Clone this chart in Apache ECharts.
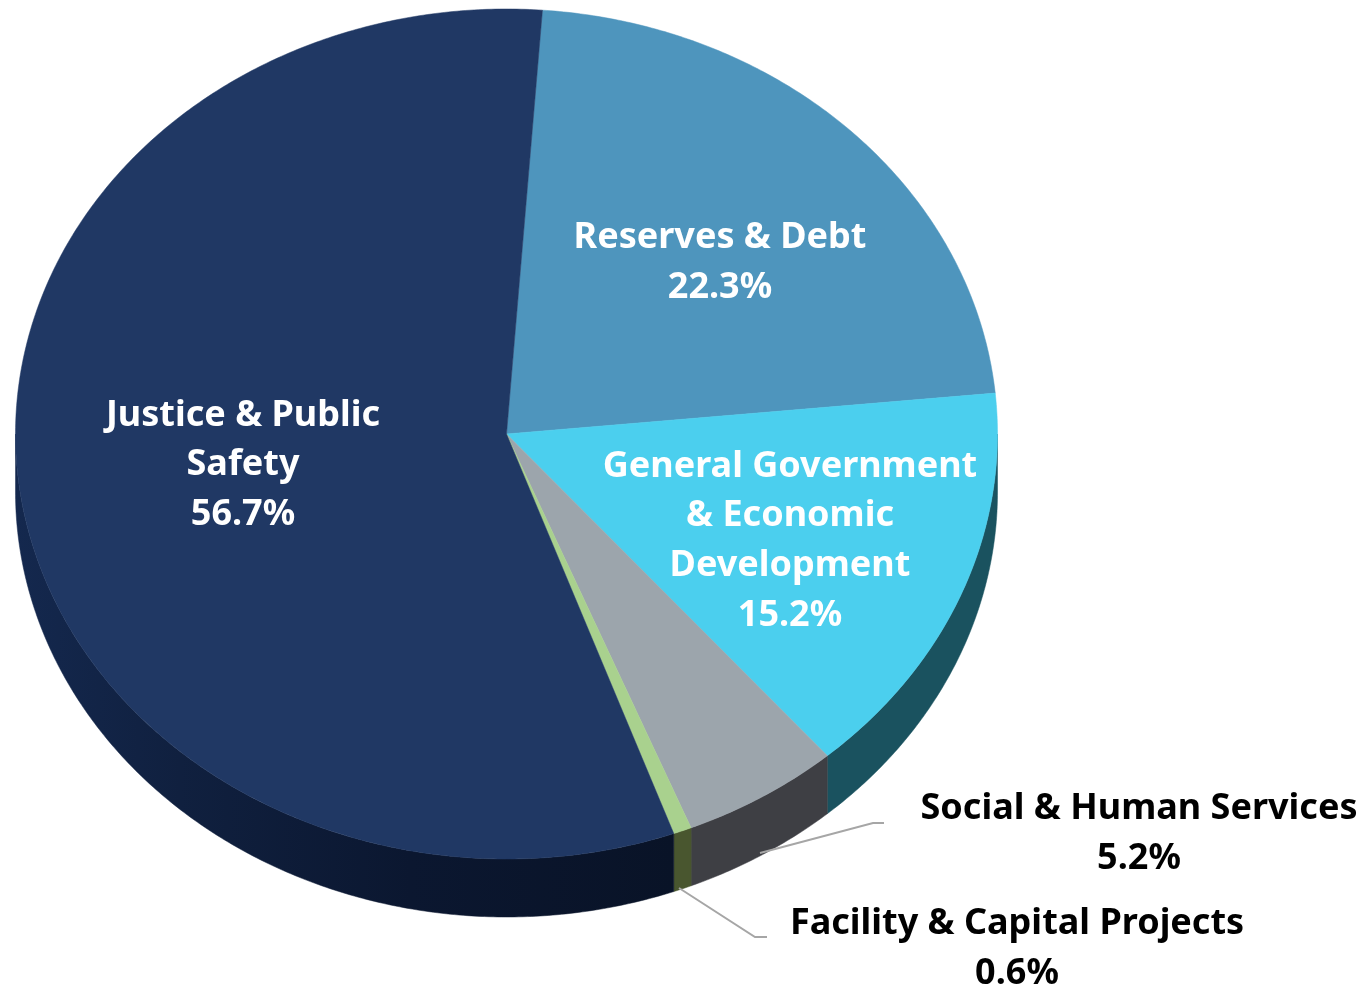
<!DOCTYPE html>
<html><head><meta charset="utf-8">
<style>html,body{margin:0;padding:0;background:#fff}#c{width:1365px;height:988px}</style>
<script src="https://cdn.jsdelivr.net/npm/echarts@6/dist/echarts.min.js"></script>
</head><body><div id="c"></div>
<script>
const categories = ['Reserves & Debt','General Government & Economic Development','Social & Human Services','Facility & Capital Projects','Justice & Public Safety'];
const shares = [22.3,15.2,5.2,0.6,56.7];
const wrappedNames = ['Reserves & Debt','General Government\n& Economic\nDevelopment','Social & Human Services','Facility & Capital Projects','Justice & Public\nSafety'];
const topColors = ['#4E95BD','#4BCFEE','#9CA5AC','#A9D18E','#203864'];
const wallColors = ['#2A5268','#1A525F','#3E3F44','#49562F',null];
const labelColors = ['#fff','#fff','#000','#000','#fff'];
const labelCenters = [[720,263],[790,541],[1139,834],[1017,949],[243,465]];
const leaders = [null,null,[[760,853],[873,823],[884,823]],[[679,888],[755,937],[767,937]],null];
const startDeg = 4.2, CX = 506.5, CY = 434, RX = 491, RY = 425, DEPTH = 58;

const starts = []; let acc = startDeg;
shares.forEach(v => { starts.push(acc); acc += v / 100 * 360; });
const pt = (deg, dy) => { const t = deg * Math.PI / 180; return [CX + RX * Math.sin(t), CY - RY * Math.cos(t) + (dy || 0)]; };
function arc(a, b, dy) { const n = Math.max(2, Math.ceil((b - a) * 2)), out = []; for (let i = 0; i <= n; i++) out.push(pt(a + (b - a) * i / n, dy)); return out; }

const justiceWall = { type:'linear', x:0, y:0, x2:1, y2:0, colorStops:[
  {offset:0,color:'#14284E'},{offset:0.25,color:'#10203F'},{offset:0.6,color:'#0B1730'},{offset:1,color:'#091327'}]};

function renderWall(params, api) {
  const i = api.value(0), a = Math.max(starts[i], 90), b = Math.min(starts[i] + api.value(1) / 100 * 360, 270);
  if (b <= a) return { type:'group', children:[] };
  const pts = arc(a, b, 0).concat(arc(a, b, DEPTH).reverse());
  const fill = wallColors[i] || justiceWall;
  return { type:'polygon', shape:{ points:pts }, style:{ fill, stroke:fill, lineWidth:0.5 } };
}
function renderTop(params, api) {
  const i = api.value(0), a = starts[i], b = a + api.value(1) / 100 * 360;
  const pts = [[CX, CY]].concat(arc(a, b, 0));
  return { type:'polygon', shape:{ points:pts }, style:{ fill:topColors[i], stroke:topColors[i], lineWidth:0.5 } };
}
function renderLabel(params, api) {
  const i = api.value(0), kids = [];
  if (leaders[i]) kids.push({ type:'polyline', shape:{ points:leaders[i] }, style:{ fill:null, stroke:'#A6A6A6', lineWidth:2 } });
  kids.push({ type:'text', x:labelCenters[i][0], y:labelCenters[i][1], style:{
    text: wrappedNames[i] + '\n' + api.value(1).toFixed(1) + '%',
    fill: labelColors[i], font:'bold 36px "Noto Sans"', lineHeight:49.7, align:'center', verticalAlign:'middle' } });
  return { type:'group', children:kids };
}
const data = shares.map((v, i) => ({ name:categories[i], value:[i, v] }));
const chart = echarts.init(document.getElementById('c'), null, { renderer:'canvas' });
chart.setOption({
  animation:false, backgroundColor:'#fff',
  series:[
    { type:'custom', coordinateSystem:'none', renderItem:renderWall, data, silent:true, z:1 },
    { type:'custom', coordinateSystem:'none', renderItem:renderTop, data, silent:true, z:2 },
    { type:'custom', coordinateSystem:'none', renderItem:renderLabel, data, silent:true, z:3 }
  ]
});
</script></body></html>
